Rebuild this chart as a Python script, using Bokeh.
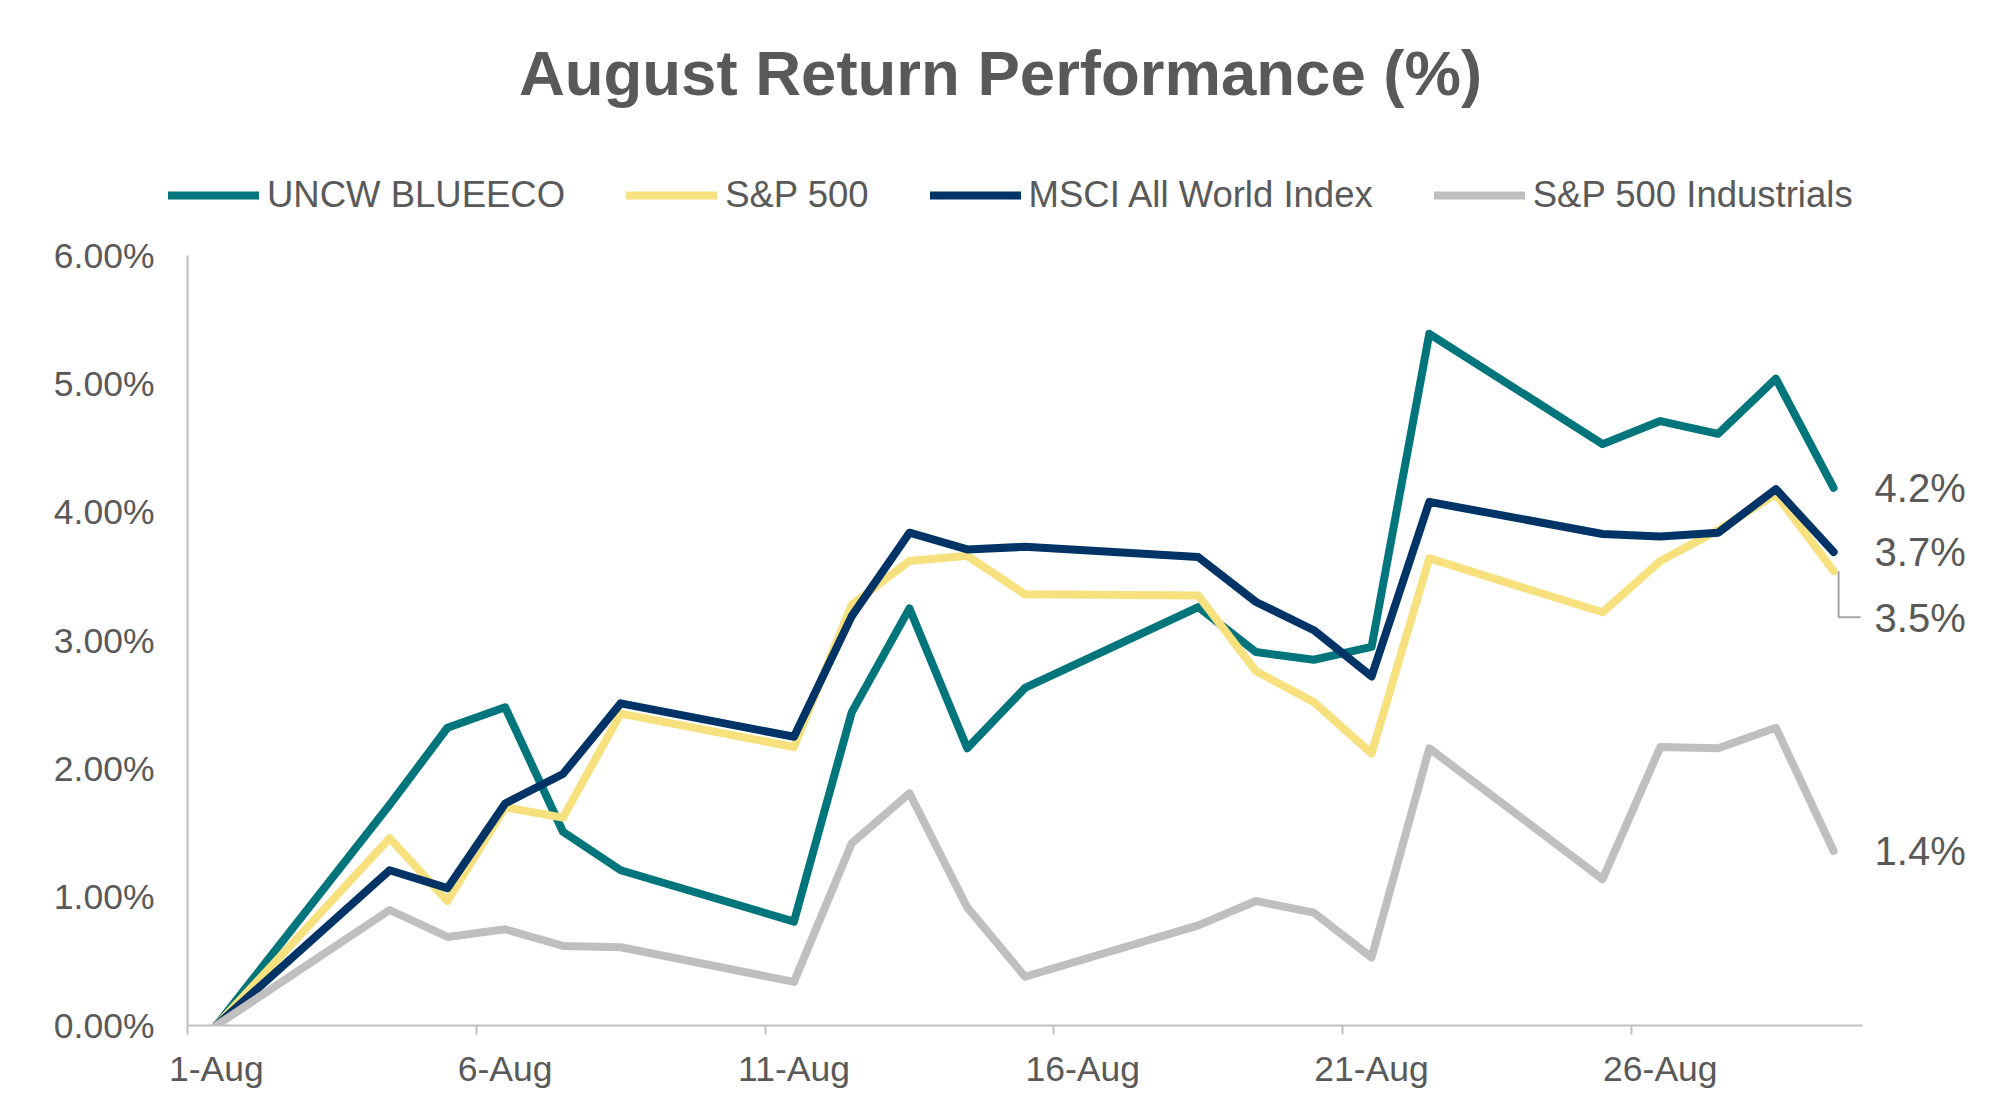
from bokeh.plotting import figure
from bokeh.models import FixedTicker, Legend, LegendItem, Label, LinearAxis, ColumnDataSource
from bokeh.embed import file_html
from bokeh.resources import INLINE
from bokeh.core.properties import value

# ---------------- data ----------------
days = [1, 4, 5, 6, 7, 8, 11, 12, 13, 14, 15, 18, 19, 20, 21, 22, 25, 26, 27, 28, 29]
tick_days = [1, 6, 11, 16, 21, 26]
tick_labels = ["1-Aug", "6-Aug", "11-Aug", "16-Aug", "21-Aug", "26-Aug"]
y_ticks = [0, 1, 2, 3, 4, 5, 6]
y_tick_labels = ["0.00%", "1.00%", "2.00%", "3.00%", "4.00%", "5.00%", "6.00%"]

series_names = ["UNCW BLUEECO", "S&P 500", "MSCI All World Index", "S&P 500 Industrials"]
uncw = [0, 1.72, 2.32, 2.48, 1.51, 1.21, 0.81, 2.44, 3.25, 2.16, 2.63, 3.26, 2.91, 2.85, 2.95, 5.39, 4.53, 4.71, 4.61, 5.04, 4.19]
sp500 = [0, 1.46, 0.97, 1.70, 1.62, 2.43, 2.17, 3.28, 3.62, 3.66, 3.36, 3.35, 2.76, 2.52, 2.12, 3.64, 3.22, 3.62, 3.86, 4.14, 3.54]
msci = [0, 1.21, 1.07, 1.73, 1.96, 2.51, 2.25, 3.19, 3.84, 3.71, 3.73, 3.65, 3.30, 3.08, 2.72, 4.08, 3.83, 3.81, 3.84, 4.18, 3.69]
indus = [0, 0.90, 0.69, 0.75, 0.62, 0.61, 0.34, 1.42, 1.81, 0.92, 0.38, 0.78, 0.97, 0.88, 0.53, 2.16, 1.14, 2.17, 2.16, 2.32, 1.36]
series_colors = ["#00757c", "#f7e07e", "#003366", "#bfbfbf"]

TEXT = "#595959"
FONT = "Liberation Sans"
AXIS_COL = "#bfbfbf"
LW = 8

# ---------------- layout ----------------
W, H = 2000, 1116
axis_left_px, axis_right_px = 187, 1862    # x extent of the axes
frame_left = 168                           # frame starts left of the y axis (room for the legend)
border_bottom = 91
frame_h = H - border_bottom                # frame reaches the top of the canvas
axis_top_px = 255                          # pixel row of the 6% end of the y axis
y_axis_max = 6
y_end = y_axis_max * frame_h / (frame_h - axis_top_px)
ax_start, ax_end = 0.5, 29.5
ppx = (axis_right_px - axis_left_px) / (ax_end - ax_start)
x_start = ax_start - (axis_left_px - frame_left) / ppx
x_end = ax_end + (W - axis_right_px) / ppx

p = figure(width=W, height=H, x_range=(x_start, x_end), y_range=(0, y_end),
           output_backend="svg", toolbar_location=None, title=None,
           min_border_left=frame_left, min_border_right=0,
           min_border_top=0, min_border_bottom=border_bottom)
p.outline_line_color = None
p.xgrid.visible = False
p.ygrid.visible = False
p.background_fill_color = "white"
p.border_fill_color = "white"

# x axis
p.xaxis.ticker = FixedTicker(ticks=tick_days, minor_ticks=[d - 0.5 for d in tick_days])
p.xaxis.major_label_overrides = {d: l for d, l in zip(tick_days, tick_labels)}
p.xaxis.bounds = (ax_start, ax_end)
p.xaxis.major_tick_line_color = None
p.xaxis.major_tick_out = 0
p.xaxis.major_tick_in = 0
p.xaxis.minor_tick_line_color = AXIS_COL
p.xaxis.minor_tick_line_width = 2
p.xaxis.minor_tick_out = 9
p.xaxis.minor_tick_in = 0
p.xaxis.axis_line_color = AXIS_COL
p.xaxis.axis_line_width = 2
p.xaxis.major_label_text_font = FONT
p.xaxis.major_label_text_font_size = "35.5px"
p.xaxis.major_label_text_color = TEXT
p.xaxis.major_label_standoff = 14

# y axis labels (in the left panel)
p.yaxis.ticker = FixedTicker(ticks=y_ticks, minor_ticks=[])
p.yaxis.major_label_overrides = {t: l for t, l in zip(y_ticks, y_tick_labels)}
p.yaxis.major_tick_line_color = None
p.yaxis.major_tick_out = 0
p.yaxis.major_tick_in = 0
p.yaxis.minor_tick_line_color = None
p.yaxis.axis_line_color = None
p.yaxis.major_label_text_font = FONT
p.yaxis.major_label_text_font_size = "35.5px"
p.yaxis.major_label_text_color = TEXT
p.yaxis.major_label_standoff = 14

# y axis line, drawn where the x axis begins
y_line_axis = LinearAxis(fixed_location=ax_start, bounds=(0, y_axis_max),
                         ticker=FixedTicker(ticks=[], minor_ticks=[]),
                         axis_line_color=AXIS_COL, axis_line_width=2,
                         major_tick_line_color=None, minor_tick_line_color=None,
                         major_tick_out=0, major_tick_in=0, minor_tick_out=0, minor_tick_in=0,
                         major_label_standoff=0)
p.add_layout(y_line_axis, "left")

# lines
renderers = []
for vals, col in zip([uncw, sp500, msci, indus], series_colors):
    renderers.append(p.line(days, vals, line_color=col, line_width=LW, line_join="round", line_cap="round"))

# legend
legend = Legend(items=[LegendItem(label=n, renderers=[r]) for n, r in zip(series_names, renderers)],
                orientation="horizontal", location=(0, 809),
                border_line_color=None, background_fill_alpha=0, padding=0, margin=0,
                spacing=61, glyph_width=91, glyph_height=36, label_height=36, label_standoff=8,
                label_text_font=FONT, label_text_font_size="36.5px", label_text_color=TEXT)
p.add_layout(legend)

# end-of-line data labels
last_x = [days[-1]] * 4
last_vals = [uncw[-1], msci[-1], sp500[-1], indus[-1]]
y_off = [0, 0, 47, 0]
lab_src = ColumnDataSource(dict(x=last_x, y=last_vals, t=[f"{v:.1f}%" for v in last_vals], yo=y_off))
p.text(x="x", y="y", text="t", source=lab_src, x_offset=41, y_offset="yo",
       text_font=value(FONT), text_font_size="40px", text_color=TEXT,
       text_align="left", text_baseline="middle")

# leader line for the S&P 500 label
ppy = (frame_h - axis_top_px) / y_axis_max
lx0 = days[-1] + 5 / ppx
lx1 = days[-1] + 27 / ppx
ly1 = sp500[-1] - 46 / ppy
p.line([lx0, lx0, lx1], [sp500[-1], ly1, ly1], line_color="#a6a6a6", line_width=2)

# title
p.add_layout(Label(x=(W / 2 - frame_left), y=frame_h - 72, x_units="screen", y_units="screen",
                   text="August Return Performance (%)", text_align="center", text_baseline="middle",
                   text_font=FONT, text_font_size="63.5px", text_font_style="bold", text_color=TEXT))

open("out.html", "w").write(file_html(p, INLINE))
